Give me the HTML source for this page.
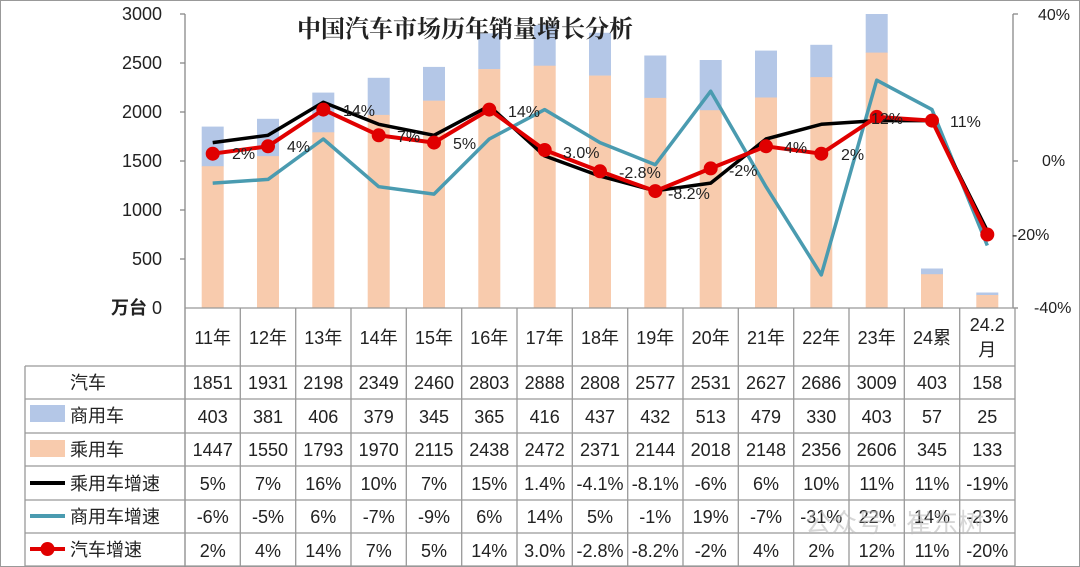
<!DOCTYPE html>
<html><head><meta charset="utf-8"><style>
html,body{margin:0;padding:0;background:#fff}
svg{display:block}
text{font-family:"Liberation Sans","Noto Sans CJK SC",sans-serif}
</style></head><body>
<svg width="1080" height="567" viewBox="0 0 1080 567" xmlns="http://www.w3.org/2000/svg">
<rect x="0.5" y="0.5" width="1079" height="566" fill="#fff" stroke="#999"/>
<g fill="#B4C7E7">
<rect x="201.7" y="126.6" width="22" height="40"/>
<rect x="257" y="118.8" width="22" height="38"/>
<rect x="312.3" y="92.6" width="22" height="40"/>
<rect x="367.7" y="77.8" width="22" height="38"/>
<rect x="423" y="66.9" width="22" height="34"/>
<rect x="478.3" y="33.3" width="22" height="36"/>
<rect x="533.7" y="25" width="22" height="41"/>
<rect x="589" y="32.8" width="22" height="43"/>
<rect x="644.3" y="55.5" width="22" height="43"/>
<rect x="699.7" y="60" width="22" height="51"/>
<rect x="755" y="50.6" width="22" height="47"/>
<rect x="810.3" y="44.8" width="22" height="33"/>
<rect x="865.7" y="14" width="22" height="39"/>
<rect x="921" y="268.5" width="22" height="6"/>
<rect x="976.3" y="292.5" width="22" height="3"/>
</g>
<g fill="#F8CBAD">
<rect x="201.7" y="166.2" width="22" height="141.8"/>
<rect x="257" y="156.1" width="22" height="151.9"/>
<rect x="312.3" y="132.3" width="22" height="175.7"/>
<rect x="367.7" y="114.9" width="22" height="193.1"/>
<rect x="423" y="100.7" width="22" height="207.3"/>
<rect x="478.3" y="69.1" width="22" height="238.9"/>
<rect x="533.7" y="65.7" width="22" height="242.3"/>
<rect x="589" y="75.6" width="22" height="232.4"/>
<rect x="644.3" y="97.9" width="22" height="210.1"/>
<rect x="699.7" y="110.2" width="22" height="197.8"/>
<rect x="755" y="97.5" width="22" height="210.5"/>
<rect x="810.3" y="77.1" width="22" height="230.9"/>
<rect x="865.7" y="52.6" width="22" height="255.4"/>
<rect x="921" y="274.2" width="22" height="33.8"/>
<rect x="976.3" y="295" width="22" height="13"/>
</g>
<text x="465" y="37" text-anchor="middle" font-size="24" font-weight="bold" fill="#222" style='font-family:"Noto Serif CJK SC",serif'>中国汽车市场历年销量增长分析</text>
<g stroke="#888" stroke-width="1.3" fill="none">
<line x1="185" y1="14" x2="185" y2="567"/>
<line x1="1013" y1="14" x2="1013" y2="308"/>
<line x1="180" y1="14" x2="185" y2="14"/><line x1="180" y1="63" x2="185" y2="63"/>
<line x1="180" y1="112" x2="185" y2="112"/><line x1="180" y1="161" x2="185" y2="161"/>
<line x1="180" y1="210" x2="185" y2="210"/><line x1="180" y1="259" x2="185" y2="259"/>
<line x1="1013" y1="14" x2="1018" y2="14"/><line x1="1013" y1="161" x2="1018" y2="161"/><line x1="1013" y1="308" x2="1018" y2="308"/>
</g>
<g font-size="18" fill="#222" text-anchor="end">
<text x="162" y="20">3000</text><text x="162" y="69">2500</text><text x="162" y="118">2000</text>
<text x="162" y="167">1500</text><text x="162" y="216">1000</text><text x="162" y="265">500</text>
<text x="162" y="314"><tspan font-weight="bold">万台</tspan> 0</text>
</g>
<g font-size="16" fill="#222">
<text x="1038" y="20">40%</text><text x="1042" y="166">0%</text><text x="1034" y="313">-40%</text>
</g>
<polyline fill="none" stroke="#4A9BB0" stroke-width="3.5" stroke-linejoin="round" points="212.7,183.1 268,179.4 323.3,139 378.7,186.7 434,194.1 489.3,139 544.7,109.6 600,142.6 655.3,164.7 710.7,91.2 766,186.7 821.3,274.9 876.7,80.2 932,109.6 987.3,245.5"/>
<polyline fill="none" stroke="#000" stroke-width="3.5" stroke-linejoin="round" points="212.7,142.6 268,135.3 323.3,102.2 378.7,124.3 434,135.3 489.3,105.9 544.7,155.9 600,176.1 655.3,190.8 710.7,183.1 766,139 821.3,124.3 876.7,120.6 932,120.6 987.3,230.8"/>
<polyline fill="none" stroke="#E00000" stroke-width="4" stroke-linejoin="round" points="212.7,153.7 268,146.3 323.3,109.6 378.7,135.3 434,142.6 489.3,109.6 544.7,150 600,171.3 655.3,191.1 710.7,168.4 766,146.3 821.3,153.7 876.7,116.9 932,120.6 987.3,234.5"/>
<g fill="#E00000">
<circle cx="212.7" cy="153.7" r="7"/><circle cx="268" cy="146.3" r="7"/><circle cx="323.3" cy="109.6" r="7"/>
<circle cx="378.7" cy="135.3" r="7"/><circle cx="434" cy="142.6" r="7"/><circle cx="489.3" cy="109.6" r="7"/>
<circle cx="544.7" cy="150" r="7"/><circle cx="600" cy="171.3" r="7"/><circle cx="655.3" cy="191.1" r="7"/>
<circle cx="710.7" cy="168.4" r="7"/><circle cx="766" cy="146.3" r="7"/><circle cx="821.3" cy="153.7" r="7"/>
<circle cx="876.7" cy="116.9" r="7"/><circle cx="932" cy="120.6" r="7"/><circle cx="987.3" cy="234.5" r="7"/>
</g>
<g font-size="16" fill="#222">
<text x="232" y="159">2%</text><text x="287" y="152">4%</text><text x="343" y="116">14%</text>
<text x="397" y="142">7%</text><text x="453" y="149">5%</text><text x="508" y="117">14%</text>
<text x="563" y="158">3.0%</text><text x="619" y="178">-2.8%</text><text x="668" y="199">-8.2%</text>
<text x="729" y="176">-2%</text><text x="784" y="153">4%</text><text x="841" y="160">2%</text>
<text x="871" y="124">12%</text><text x="950" y="127">11%</text><text x="1012" y="240">-20%</text>
</g>
<g stroke="#999" stroke-width="1.3">
<line x1="185" y1="308" x2="1015" y2="308"/>
<line x1="25" y1="366" x2="1015" y2="366"/>
<line x1="25" y1="399" x2="1015" y2="399"/>
<line x1="25" y1="433" x2="1015" y2="433"/>
<line x1="25" y1="466" x2="1015" y2="466"/>
<line x1="25" y1="500" x2="1015" y2="500"/>
<line x1="25" y1="533" x2="1015" y2="533"/>
<line x1="25" y1="566" x2="1015" y2="566"/>
<line x1="25" y1="366" x2="25" y2="567"/>
<line x1="240.3" y1="308" x2="240.3" y2="567"/><line x1="295.7" y1="308" x2="295.7" y2="567"/>
<line x1="351" y1="308" x2="351" y2="567"/><line x1="406.3" y1="308" x2="406.3" y2="567"/>
<line x1="461.7" y1="308" x2="461.7" y2="567"/><line x1="517" y1="308" x2="517" y2="567"/>
<line x1="572.3" y1="308" x2="572.3" y2="567"/><line x1="627.7" y1="308" x2="627.7" y2="567"/>
<line x1="683" y1="308" x2="683" y2="567"/><line x1="738.3" y1="308" x2="738.3" y2="567"/>
<line x1="793.7" y1="308" x2="793.7" y2="567"/><line x1="849" y1="308" x2="849" y2="567"/>
<line x1="904.3" y1="308" x2="904.3" y2="567"/><line x1="959.7" y1="308" x2="959.7" y2="567"/>
<line x1="1015" y1="308" x2="1015" y2="567"/>
</g>
<rect x="30" y="405" width="35" height="17" fill="#B4C7E7"/>
<rect x="30" y="440" width="35" height="17" fill="#F8CBAD"/>
<line x1="30" y1="483" x2="65" y2="483" stroke="#000" stroke-width="4"/>
<line x1="30" y1="516" x2="65" y2="516" stroke="#4A9BB0" stroke-width="4"/>
<line x1="30" y1="549" x2="65" y2="549" stroke="#E00000" stroke-width="4"/>
<circle cx="47.5" cy="549" r="7" fill="#E00000"/>
<g font-size="18" fill="#222">
<text x="70" y="389">汽车</text><text x="70" y="422">商用车</text><text x="70" y="456">乘用车</text>
<text x="70" y="490">乘用车增速</text><text x="70" y="523">商用车增速</text><text x="70" y="556">汽车增速</text>
</g>
<g font-size="18" fill="#222" text-anchor="middle">
<text x="212.7" y="344">11年</text><text x="268" y="344">12年</text><text x="323.3" y="344">13年</text>
<text x="378.7" y="344">14年</text><text x="434" y="344">15年</text><text x="489.3" y="344">16年</text>
<text x="544.7" y="344">17年</text><text x="600" y="344">18年</text><text x="655.3" y="344">19年</text>
<text x="710.7" y="344">20年</text><text x="766" y="344">21年</text><text x="821.3" y="344">22年</text>
<text x="876.7" y="344">23年</text><text x="932" y="344">24累</text>
<text x="987.3" y="331">24.2</text><text x="987.3" y="356">月</text>
</g>
<g font-size="18" fill="#222" text-anchor="middle">
<g transform="translate(0,389)">
<text x="212.7">1851</text><text x="268">1931</text><text x="323.3">2198</text><text x="378.7">2349</text><text x="434">2460</text><text x="489.3">2803</text><text x="544.7">2888</text><text x="600">2808</text><text x="655.3">2577</text><text x="710.7">2531</text><text x="766">2627</text><text x="821.3">2686</text><text x="876.7">3009</text><text x="932">403</text><text x="987.3">158</text>
</g>
<g transform="translate(0,423)">
<text x="212.7">403</text><text x="268">381</text><text x="323.3">406</text><text x="378.7">379</text><text x="434">345</text><text x="489.3">365</text><text x="544.7">416</text><text x="600">437</text><text x="655.3">432</text><text x="710.7">513</text><text x="766">479</text><text x="821.3">330</text><text x="876.7">403</text><text x="932">57</text><text x="987.3">25</text>
</g>
<g transform="translate(0,456)">
<text x="212.7">1447</text><text x="268">1550</text><text x="323.3">1793</text><text x="378.7">1970</text><text x="434">2115</text><text x="489.3">2438</text><text x="544.7">2472</text><text x="600">2371</text><text x="655.3">2144</text><text x="710.7">2018</text><text x="766">2148</text><text x="821.3">2356</text><text x="876.7">2606</text><text x="932">345</text><text x="987.3">133</text>
</g>
<g transform="translate(0,490)">
<text x="212.7">5%</text><text x="268">7%</text><text x="323.3">16%</text><text x="378.7">10%</text><text x="434">7%</text><text x="489.3">15%</text><text x="544.7">1.4%</text><text x="600">-4.1%</text><text x="655.3">-8.1%</text><text x="710.7">-6%</text><text x="766">6%</text><text x="821.3">10%</text><text x="876.7">11%</text><text x="932">11%</text><text x="987.3">-19%</text>
</g>
<g transform="translate(0,523)">
<text x="212.7">-6%</text><text x="268">-5%</text><text x="323.3">6%</text><text x="378.7">-7%</text><text x="434">-9%</text><text x="489.3">6%</text><text x="544.7">14%</text><text x="600">5%</text><text x="655.3">-1%</text><text x="710.7">19%</text><text x="766">-7%</text><text x="821.3">-31%</text><text x="876.7">22%</text><text x="932">14%</text><text x="987.3">-23%</text>
</g>
<g transform="translate(0,557)">
<text x="212.7">2%</text><text x="268">4%</text><text x="323.3">14%</text><text x="378.7">7%</text><text x="434">5%</text><text x="489.3">14%</text><text x="544.7">3.0%</text><text x="600">-2.8%</text><text x="655.3">-8.2%</text><text x="710.7">-2%</text><text x="766">4%</text><text x="821.3">2%</text><text x="876.7">12%</text><text x="932">11%</text><text x="987.3">-20%</text>
</g>
</g>
<text x="805" y="532" font-size="26" fill="#bbb" opacity="0.6">公众号 · 崔东树</text>
</svg>
</body></html>
